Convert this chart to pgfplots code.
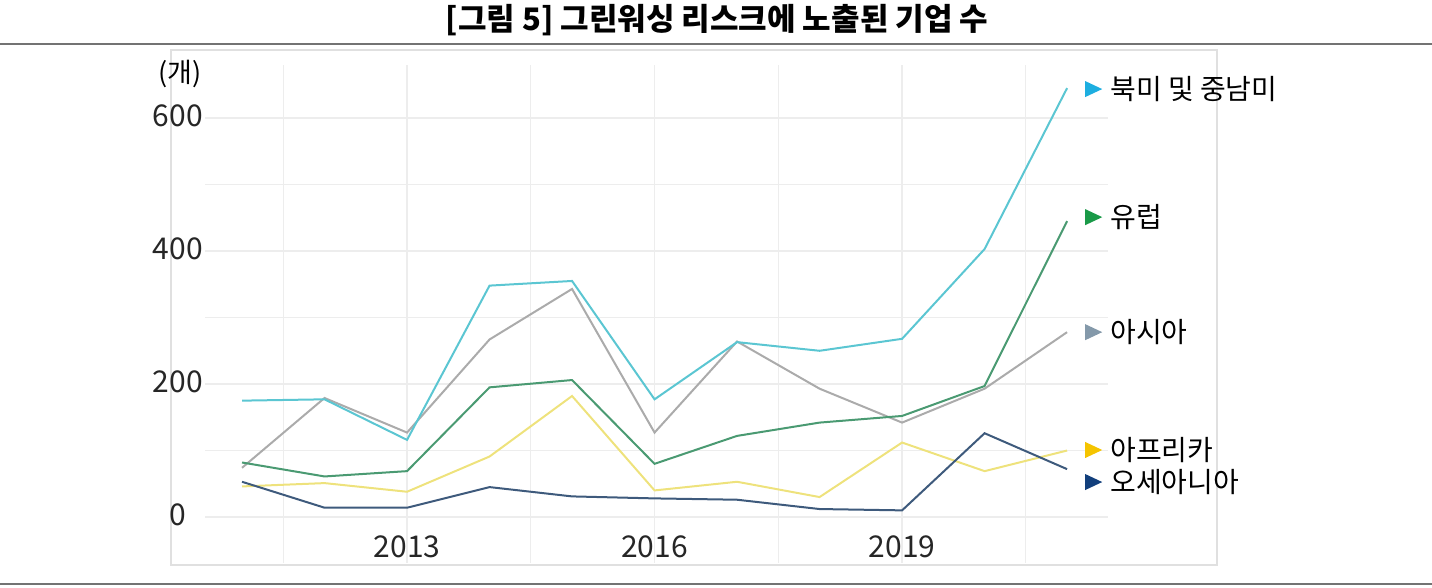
\documentclass[border=0pt]{standalone}
\usepackage{fontspec}
\setmainfont{Noto Sans CJK KR}
\usepackage{pgfplots}
\pgfplotsset{compat=1.18}
\definecolor{cNA}{HTML}{5BC6D2}
\definecolor{cEU}{HTML}{4A9A72}
\definecolor{cAS}{HTML}{ABABAB}
\definecolor{cAF}{HTML}{EEE27C}
\definecolor{cOC}{HTML}{3E5A7C}
\definecolor{tNA}{HTML}{1DAEE0}
\definecolor{tEU}{HTML}{1A9A48}
\definecolor{tAS}{HTML}{8499AA}
\definecolor{tAF}{HTML}{F5C400}
\definecolor{tOC}{HTML}{123F7C}
\definecolor{gridc}{HTML}{EDEDED}
\newcommand{\tri}[3]{\fill[#1] ([yshift=4bp]axis cs:#2,#3) -- ([yshift=-4bp]axis cs:#2,#3) -- ([xshift=8.5bp]axis cs:#2,#3) -- cycle;}
\begin{document}
\begin{tikzpicture}
\begin{scope}[x=0.5bp,y=0.5bp]
\useasboundingbox (0,0) rectangle (1432,588);
\node[font=\bfseries\fontsize{15.5bp}{18bp}\selectfont, anchor=center] at (717,568) {[그림 5] 그린워싱 리스크에 노출된 기업 수};
\draw[color=black!55, line width=1bp] (0,544) -- (1432,544);
\draw[color=black!55, line width=1bp] (0,4) -- (1432,4);
\draw[color=black!12, line width=0.6bp] (171,538) rectangle (1217,23);
\node[font=\fontsize{13.5bp}{16bp}\selectfont, anchor=center] at (180,514) {(개)};
\end{scope}
\begin{axis}[
  at={(102.45bp,12.55bp)}, anchor=south west,
  scale only axis, width=451.7bp, height=249bp,
  xmin=-0.45, xmax=10.5, ymin=-69, ymax=680,
  axis line style={draw=none},
  xtick={2,5,8},
  minor xtick={0.5,3.5,6.5,9.5},
  ytick={0,200,400,600},
  minor ytick={100,300,500},
  grid=both,
  major grid style={gridc, line width=0.6bp},
  minor grid style={gridc, line width=0.6bp},
  major tick length=0pt, minor tick length=0pt,
  xticklabels={2013,2016,2019},
  yticklabels={0,200,400,600},
  ticklabel style={font=\fontsize{15bp}{18bp}\selectfont, text=black!85},
  xticklabel style={anchor=center, yshift=8bp},
  yticklabel style={anchor=center, xshift=-13.5bp, yshift=1bp},
  clip=false,
  every axis plot/.append style={line width=1bp, no marks, sharp plot},
]
% x = year - 2011 (2011 ... 2021)
\addplot[cAS] coordinates {(0,74)(1,179)(2,127)(3,267)(4,343)(5,127)(6,264)(7,193)(8,142)(9,193)(10,278)};
\addplot[cAF] coordinates {(0,46)(1,51)(2,38)(3,91)(4,182)(5,40)(6,53)(7,30)(8,112)(9,69)(10,100)};
\addplot[cOC] coordinates {(0,53)(1,14)(2,14)(3,45)(4,31)(5,28)(6,26)(7,12)(8,10)(9,126)(10,72)};
\addplot[cEU] coordinates {(0,82)(1,61)(2,69)(3,195)(4,206)(5,80)(6,122)(7,142)(8,152)(9,197)(10,445)};
\addplot[cNA] coordinates {(0,175)(1,177)(2,116)(3,348)(4,355)(5,177)(6,263)(7,250)(8,268)(9,403)(10,645)};
\tri{tNA}{10.22}{643.6}
\node[anchor=west, inner sep=0pt, font=\fontsize{14bp}{17bp}\selectfont] at (axis cs:10.52,643.6) {북미 및 중남미};
\tri{tEU}{10.22}{451}
\node[anchor=west, inner sep=0pt, font=\fontsize{14bp}{17bp}\selectfont] at (axis cs:10.52,451) {유럽};
\tri{tAS}{10.22}{278}
\node[anchor=west, inner sep=0pt, font=\fontsize{14bp}{17bp}\selectfont] at (axis cs:10.52,278) {아시아};
\tri{tAF}{10.22}{100.8}
\node[anchor=west, inner sep=0pt, font=\fontsize{14bp}{17bp}\selectfont] at (axis cs:10.52,100.8) {아프리카};
\tri{tOC}{10.22}{52.6}
\node[anchor=west, inner sep=0pt, font=\fontsize{14bp}{17bp}\selectfont] at (axis cs:10.52,52.6) {오세아니아};
\end{axis}
\end{tikzpicture}
\end{document}
